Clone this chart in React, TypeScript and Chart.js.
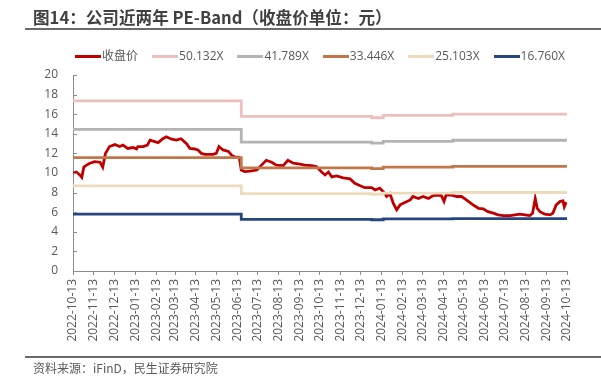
import React, { useEffect, useRef } from 'react';
import { Chart, registerables } from 'chart.js';

Chart.register(...registerables);

const titleText = '图14：公司近两年 PE-Band（收盘价单位：元）';
const sourceText = '资料来源：iFinD，民生证券研究院';

const tickDates = [
  '2022-10-13', '2022-11-13', '2022-12-13', '2023-01-13', '2023-02-13', '2023-03-13',
  '2023-04-13', '2023-05-13', '2023-06-13', '2023-07-13', '2023-08-13', '2023-09-13',
  '2023-10-13', '2023-11-13', '2023-12-13', '2024-01-13', '2024-02-13', '2024-03-13',
  '2024-04-13', '2024-05-13', '2024-06-13', '2024-07-13', '2024-08-13', '2024-09-13',
  '2024-10-13',
];

const yMin = 0;
const yMax = 20;
const yStep = 2;

const priceLabel = '收盘价';
const priceDates = [
  '2022-10-13', '2022-10-18', '2022-10-23', '2022-10-26', '2022-10-29', '2022-11-02',
  '2022-11-07', '2022-11-14', '2022-11-22', '2022-11-26', '2022-11-30', '2022-12-06',
  '2022-12-14', '2022-12-21', '2022-12-26', '2023-01-02', '2023-01-10', '2023-01-15',
  '2023-01-17', '2023-01-25', '2023-01-31', '2023-02-04', '2023-02-11', '2023-02-16',
  '2023-02-23', '2023-02-28', '2023-03-08', '2023-03-15', '2023-03-22', '2023-03-30',
  '2023-04-04', '2023-04-11', '2023-04-16', '2023-04-21', '2023-04-26', '2023-05-08',
  '2023-05-13', '2023-05-17', '2023-05-23', '2023-05-31', '2023-06-05', '2023-06-09',
  '2023-06-16', '2023-06-19', '2023-06-24', '2023-07-02', '2023-07-12', '2023-07-16',
  '2023-07-26', '2023-08-03', '2023-08-10', '2023-08-20', '2023-08-27', '2023-09-04',
  '2023-09-14', '2023-09-21', '2023-10-01', '2023-10-08', '2023-10-16', '2023-10-21',
  '2023-10-26', '2023-10-31', '2023-11-07', '2023-11-17', '2023-11-27', '2023-12-04',
  '2023-12-12', '2023-12-19', '2023-12-29', '2024-01-03', '2024-01-10', '2024-01-15',
  '2024-01-20', '2024-01-25', '2024-01-30', '2024-02-04', '2024-02-09', '2024-02-16',
  '2024-02-24', '2024-02-28', '2024-03-07', '2024-03-14', '2024-03-22', '2024-03-29',
  '2024-04-05', '2024-04-10', '2024-04-14', '2024-04-17', '2024-04-25', '2024-05-03',
  '2024-05-10', '2024-05-15', '2024-05-20', '2024-05-27', '2024-06-04', '2024-06-11',
  '2024-06-18', '2024-06-26', '2024-07-03', '2024-07-11', '2024-07-21', '2024-07-28',
  '2024-08-04', '2024-08-12', '2024-08-19', '2024-08-23', '2024-08-27', '2024-08-30',
  '2024-09-03', '2024-09-10', '2024-09-18', '2024-09-22', '2024-09-27', '2024-10-03',
  '2024-10-07', '2024-10-09', '2024-10-11', '2024-10-13',
];
const priceValues = [
  9.97, 10.1, 9.8, 9.56, 10.6, 10.8,
  11.0, 11.15, 11.1, 10.6, 12.0, 12.7,
  12.9, 12.7, 12.85, 12.5, 12.6, 12.45,
  12.7, 12.7, 12.85, 13.35, 13.2, 13.1,
  13.5, 13.7, 13.45, 13.35, 13.5, 13.0,
  12.5, 12.45, 12.35, 12.0, 11.9, 11.9,
  12.0, 12.7, 12.35, 12.2, 11.8, 11.65,
  11.6, 10.3, 10.15, 10.2, 10.3, 10.6,
  11.3, 11.1, 10.8, 10.75, 11.3, 11.0,
  10.9, 10.8, 10.75, 10.65, 10.1, 9.8,
  10.1, 9.6, 9.7, 9.5, 9.4, 8.95,
  8.7, 8.5, 8.5, 8.27, 8.45, 8.1,
  7.6, 7.9, 6.9, 6.25, 6.75, 7.0,
  7.25, 7.6, 7.4, 7.6, 7.4, 7.7,
  7.75, 7.7, 7.1, 7.75, 7.75, 7.6,
  7.6, 7.35, 7.1, 6.75, 6.4, 6.35,
  6.05, 5.9, 5.73, 5.65, 5.65, 5.73,
  5.8, 5.73, 5.65, 5.9, 7.4, 6.4,
  6.05, 5.8, 5.73, 5.9, 6.75, 7.1,
  7.15, 6.55, 6.9, 6.85,
];

// PE band levels: each value holds from its date until the next date
const bandDates = ['2022-10-13', '2023-06-19', '2023-12-29', '2024-01-15', '2024-04-27', '2024-10-13'];
const bandLabels = ['50.132X', '41.789X', '33.446X', '25.103X', '16.760X'];
const band50 = [17.35, 15.77, 15.64, 15.87, 16.0, 16.0];
const band41 = [14.46, 13.15, 13.04, 13.23, 13.34, 13.34];
const band33 = [11.57, 10.52, 10.44, 10.59, 10.68, 10.68];
const band25 = [8.69, 7.9, 7.83, 7.95, 8.01, 8.01];
const band16 = [5.8, 5.27, 5.23, 5.31, 5.35, 5.35];

const priceColor = '#C00000';
const bandColors = ['#EBC0BF', '#B4B4B4', '#C0784A', '#EEDBBD', '#26467F'];

const FONT = '"Open Sans", "Noto Sans CJK SC", sans-serif';
const CJK = '"Noto Sans CJK SC", sans-serif';

const baseDate = tickDates[0];
function dayOf(s: string): number {
  const [y, m, d] = s.split('-').map(Number);
  const [by, bm, bd] = baseDate.split('-').map(Number);
  return Math.round((Date.UTC(y, m - 1, d) - Date.UTC(by, bm - 1, bd)) / 86400000);
}

const innerYTicks = {
  id: 'innerYTicks',
  afterDraw(chart: any) {
    const ys = chart.scales.y;
    const { ctx, chartArea } = chart;
    ctx.save();
    ctx.strokeStyle = '#8c8c8c';
    ctx.lineWidth = 1;
    ys.ticks.forEach((t: any) => {
      const py = Math.round(ys.getPixelForValue(t.value)) + 0.5;
      ctx.beginPath();
      ctx.moveTo(chartArea.left, py);
      ctx.lineTo(chartArea.left + 4, py);
      ctx.stroke();
    });
    ctx.restore();
  },
};

export default function App() {
  const ref = useRef<HTMLCanvasElement | null>(null);

  useEffect(() => {
    if (!ref.current) return;
    const bands = [band50, band41, band33, band25, band16];
    const datasets: any[] = [
      {
        label: priceLabel,
        data: priceDates.map((d, i) => ({ x: dayOf(d), y: priceValues[i] })),
        borderColor: priceColor,
        backgroundColor: priceColor,
        borderWidth: 2.8,
        pointRadius: 0,
        tension: 0,
        order: 10,
      },
      ...bands.map((vals, k) => ({
        label: bandLabels[k],
        data: bandDates.map((d, i) => ({ x: dayOf(d), y: vals[i] })),
        borderColor: bandColors[k],
        backgroundColor: bandColors[k],
        borderWidth: 2.8,
        pointRadius: 0,
        stepped: 'before',
        order: k,
      })),
    ];

    const chart = new Chart(ref.current, {
      type: 'line',
      data: { datasets },
      plugins: [innerYTicks],
      options: {
        animation: false,
        responsive: false,
        devicePixelRatio: 1,
        layout: { padding: { left: 0, top: 75, right: 34, bottom: 0 } },
        plugins: {
          legend: { display: false },
          title: { display: false },
          tooltip: { enabled: false },
        },
        scales: {
          x: {
            type: 'linear',
            min: 0,
            max: dayOf(tickDates[tickDates.length - 1]),
            afterBuildTicks: (scale: any) => {
              scale.ticks = tickDates.map((d) => ({ value: dayOf(d) }));
            },
            afterFit: (scale: any) => {
              scale.height = 115;
            },
            ticks: {
              autoSkip: false,
              minRotation: 90,
              maxRotation: 90,
              padding: 4,
              color: '#595959',
              font: { family: FONT, size: 12 },
              callback: (_v: any, i: number) => tickDates[i],
            },
            grid: {
              display: true,
              drawOnChartArea: false,
              drawTicks: true,
              tickLength: 4,
              color: '#8c8c8c',
            },
            border: { display: true, color: '#8c8c8c', width: 1 },
          },
          y: {
            min: yMin,
            max: yMax,
            afterFit: (scale: any) => {
              scale.width = 73;
            },
            ticks: {
              stepSize: yStep,
              padding: 15,
              color: '#595959',
              font: { family: FONT, size: 12 },
            },
            grid: { display: false, drawTicks: false },
            border: { display: true, color: '#8c8c8c', width: 1 },
          },
        },
      },
    });
    return () => chart.destroy();
  }, []);

  const legendItems = [{ label: priceLabel, color: priceColor }].concat(
    bandLabels.map((l, i) => ({ label: l, color: bandColors[i] }))
  );

  return (
    <div style={{ position: 'absolute', left: 0, top: 0, width: 601, height: 386, background: '#fff', overflow: 'hidden' }}>
      <canvas ref={ref} width={601} height={386} style={{ position: 'absolute', left: 0, top: 0, width: 601, height: 386 }} />
      <div style={{ position: 'absolute', left: 33, top: 8, fontFamily: CJK, fontWeight: 'bold', fontSize: 16.6, lineHeight: '18px', color: '#404040', whiteSpace: 'nowrap' }}>
        {titleText}
      </div>
      <div style={{ position: 'absolute', left: 25, top: 28, width: 576, height: 2, background: '#6a6a6a' }} />
      <div style={{ position: 'absolute', left: 73, top: 48, width: 494, height: 16, display: 'flex', justifyContent: 'center', alignItems: 'center', gap: 14 }}>
        {legendItems.map((it) => (
          <div key={it.label} style={{ display: 'flex', alignItems: 'center' }}>
            <span style={{ display: 'inline-block', width: 26, height: 3, background: it.color }} />
            <span style={{ marginLeft: 1, fontFamily: FONT, fontSize: 12, lineHeight: '16px', color: '#595959', whiteSpace: 'nowrap' }}>{it.label}</span>
          </div>
        ))}
      </div>
      <div style={{ position: 'absolute', left: 25, top: 356, width: 576, height: 2, background: '#6a6a6a' }} />
      <div style={{ position: 'absolute', left: 33, top: 361, fontFamily: CJK, fontSize: 12, lineHeight: '14px', color: '#595959', whiteSpace: 'nowrap' }}>
        {sourceText}
      </div>
    </div>
  );
}
